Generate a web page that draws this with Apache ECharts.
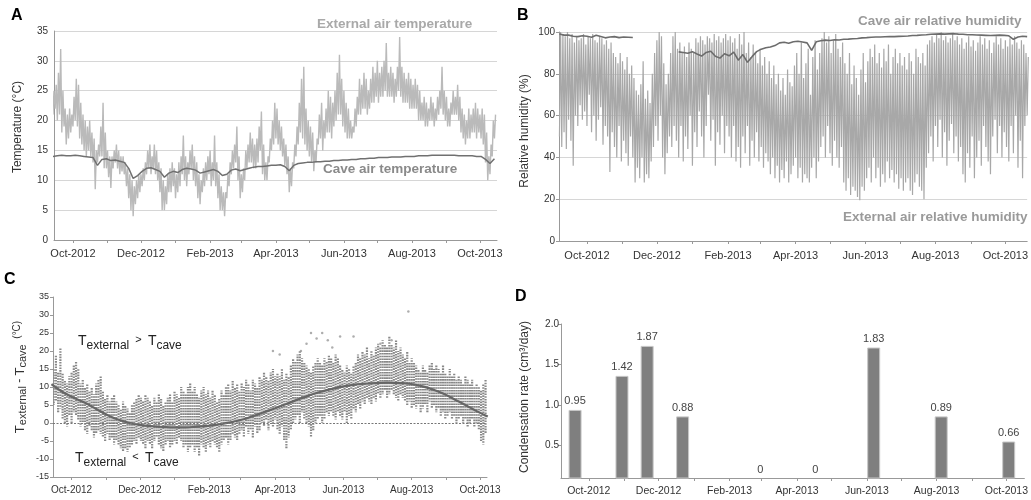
<!DOCTYPE html>
<html><head><meta charset="utf-8">
<script src="https://cdn.jsdelivr.net/npm/echarts@6/dist/echarts.min.js"></script>
<style>html,body{margin:0;padding:0;background:#fff}#c{width:1031px;height:500px}</style>
</head><body><div id="c"></div>
<script>
// Day 0 = 1 Oct 2012
const monthTickDays = [0,31,61,92,123,151,182,212,243,273,304,335,365];
const labelDays = [0,61,123,182,243,304,365];
const labelNames = ['Oct-2012','Dec-2012','Feb-2013','Apr-2013','Jun-2013','Aug-2013','Oct-2013'];

// Panel A: external air temperature (daily highs / lows, every 2 days from day -18)
const extTempStart = -18, extTempStep = 2;
const extTempHigh = [25,26,28,32,25,22,21,22,21,24,27,26,23,21,20,19,20,18,17,15,16,19,23,18,15,14,14,15,16,15,14,14,13,12,11,10,9,10,11,11,12,13,15,16,14,16,15,13,12,10,9,11,12,13,12,11,13,14,17.5,14,13,15,16,14,13,11,10,12,13,14,15,13,17.5,13,11,9,8,8,11,13,15,16,19,14,11,12,15,16,18,17,16,17,19,21.5,16,13,14,17,20,23,22,20,19,17,16,14,12,13,16,19,23,27,29,22,20,19,18,15,17,21,23,20,22,25,24,23,25,28,31,27,25,23,22,20,19,22,24,27,26,28,27,25,27,29,28,30,28,29,30,33,28,29,28,27,29,34,29,28,27,28,27,26,27,26,25,23,24,23,22,24,23,22,24,25,29,25,24,22,23,25,24,26,24,22,21,20,22,21,22,23,22,21,22,21,18,14,16,20,21];
const extTempLow = [21,22,20,21,18,19,16,17,18,19,20,19,17,16,15,14,15,14,13,8.5,13,14,14,12,12,10.5,8.7,12,13,12,11,11.5,11,9,7,5,4,6,7,8,9,10,11,12,11,12,11,10,8,5,5,6,8,8,9,7,8,9,11,10,9,11,12,10,9,7,6,8,9,10,11,9,10,9,7,5,5,4,7,9,11,12,13,10,7,8,10,12,13,13,12,12,13,15,11,10,10,13,15,16,17,16,15,14,12.5,11,8,9,12,14,16,18,17,16,15,14,13,11.5,13,16,17,15,17,18,18,17,19,20,21,21,19,18,17,17,17,18,19,21,21,22,22,21,22,23,23,24,23,24,24,25,24,24,24,23,24,25,24,23,23,23,22,22,22,22,20,20,20,19,19,20,20,19,20,21,22,21,20,19,19,21,21,21,20,18,17,16,17,17,18,18,17,18,17,16,13,10,11,14,17];
// Panel A: cave air temperature (every 4 days from day -18)
const caveTempStart = -18, caveTempStep = 4;
const caveTemp = [14.0,14.1,14.2,14.1,14.1,14.2,14.1,14.0,13.9,13.8,12.5,13.5,13.6,13.3,13.4,13.2,13.0,12.0,10.3,10.8,11.5,12.0,12.1,11.8,11.5,10.5,11.2,11.5,11.3,11.8,12.0,11.9,11.7,11.2,11.4,11.6,11.8,11.5,10.8,11.0,11.7,11.9,11.6,11.8,12.0,12.2,12.3,12.3,12.4,12.5,12.5,12.6,12.3,11.6,12.5,12.8,12.9,13.0,13.0,13.1,13.1,13.2,13.2,13.3,13.3,13.4,13.4,13.5,13.5,13.6,13.6,13.7,13.7,13.8,13.8,13.8,13.9,13.9,13.9,14.0,14.0,14.0,14.1,14.1,14.1,14.2,14.2,14.2,14.2,14.2,14.2,14.1,14.1,14.1,14.1,14.0,14.0,13.5,12.8,13.6];

// Panel B: external relative humidity (highs / lows, every 2 days from day -24)
const extRhStart = -24, extRhStep = 2;
const extRhHigh = [100,99,98,100,97,99,95,98,96,97,99,94,98,97,99,96,95,98,97,94,96,92,95,90,88,85,90,86,82,88,80,84,78,72,70,75,86,68,72,66,80,90,96,100,98,85,75,80,90,98,100,92,95,90,93,88,95,92,90,97,95,98,96,94,98,97,95,99,96,98,95,97,99,96,98,95,97,92,99,94,100,90,95,88,94,90,85,92,84,88,80,86,78,84,75,80,72,78,70,82,76,74,84,90,80,95,78,85,92,70,88,96,82,90,97,100,95,98,90,96,99,92,88,95,85,80,90,75,84,78,70,82,90,76,86,92,88,94,85,90,83,92,86,94,80,88,92,85,90,84,88,82,90,86,80,92,88,85,90,84,94,96,98,95,99,97,100,96,98,95,97,99,96,98,94,97,92,95,98,93,96,91,95,98,94,97,92,96,90,95,98,94,97,92,96,93,97,94,98,95,92,96,94,90,88];
const extRhLow = [50,45,52,44,58,48,36,60,55,65,58,62,55,70,52,60,48,58,64,46,55,50,33,52,45,40,55,38,48,42,36,50,40,28,35,30,40,28,32,30,38,45,55,48,60,40,32,42,50,45,55,48,40,55,38,50,44,60,36,52,45,62,50,40,55,70,48,58,36,52,46,60,42,55,50,40,55,38,45,35,50,42,55,36,48,40,52,38,45,35,42,38,32,40,30,36,28,34,30,38,28,32,36,40,30,35,28,32,30,28,35,40,30,38,45,50,40,55,42,36,48,40,35,45,28,24,30,22,26,24,21,19.5,26,24,30,35,28,40,30,35,26,32,28,38,30,34,28,32,25,30,24,28,30,24,22,28,32,26,24,20,35,42,50,38,55,45,58,40,52,36,48,56,42,50,38,45,32,28,42,35,50,30,40,48,36,55,45,38,32,50,58,42,55,40,52,45,38,55,42,60,35,48,30,55,60];
// Panel B: cave relative humidity (every 4 days from day -24; null = no record)
const caveRhStart = -24, caveRhStep = 4;
const caveRh = [99,98.5,98.5,98,97.8,98.2,98,97.5,98.4,97.8,97.2,97.6,97.8,97.3,97.6,97.5,97.4,null,null,null,null,null,null,null,null,null,90.5,90.2,89.8,90.6,89.5,88.5,90.2,90.8,88.4,87.5,89.6,88.6,90.4,86.5,89.2,85.5,88.2,90.6,91.8,92.5,92.8,93.5,94.8,95.1,94.6,95.3,95.6,95.2,94.8,91.2,95.3,95.8,96.1,95.9,96.3,96.2,96.5,96.6,96.8,96.9,97.2,97.3,97.5,97.6,97.6,97.7,97.8,97.8,97.9,98.0,98.1,98.3,98.4,98.6,98.7,98.9,99.0,99.1,99.0,99.1,99.2,99.0,98.9,98.7,98.7,98.6,98.5,98.4,98.3,98.4,98.5,98.4,98.2,96.5,97.6,98.0,97.8];

// Panel C: T external - T cave, spread of readings (highs / lows, every 2 days from day -18)
const diffStart = -18, diffStep = 2;
const diffHigh = [13,15,19,14,21,14,12,11,13,14,16,17,15,11,12,10,11,9,10,8,11,12,13,9,7,8,6,7,8,6,5,4,6,5,4,3,5,6,7,8,7,6,8,7,6,5,7,6,8,7,5,6,7,8,6,9,8,7,10,9,8,10,11,9,10,8,7,9,10,8,9,7,9,8,6,7,9,8,10,11,9,12,10,11,9,11,10,12,11,9,12,11,10,13,12,14,13,12,14,15,13,14,13,15,12,14,13,16,18,17,19,20,18,17,16,15,14,16,17,18,17,16,18,17,19,18,17,19,18,16,15,14,16,15,14,16,17,19,18,20,19,21,18,20,19,21,22,21,23,22,21,24,22,21,23,20,21,19,18,20,17,18,17,16,15,14,16,15,14,16,17,15,16,15,14,16,14,13,15,13,14,12,13,12,11,13,12,11,12,10,11,10,9,11,12];
const diffLow = [6,5,6,3,4,1,0,-1,2,0,3,2,1,-1,0,-2,-3,-1,-2,-4,-3,-2,-3,-4,-5,-3,-5,-4,-6,-5,-6,-7,-8,-7,-8,-7,-6,-5,-6,-4,-5,-6,-7,-5,-6,-7,-5,-4,-6,-7,-8,-6,-5,-7,-6,-5,-6,-4,-5,-7,-6,-8,-7,-6,-8,-7,-9,-6,-7,-8,-6,-7,-5,-6,-7,-8,-6,-5,-4,-6,-5,-3,-4,-5,-3,-2,-4,-1,-3,-2,-4,-1,-3,-2,0,-1,1,-2,0,-1,1,-2,-3,-1,-5,-7,-4,-2,0,1,2,0,3,1,0,-1,-4,-2,0,1,2,0,1,3,2,3,2,1,3,2,1,3,0,2,1,4,3,5,4,6,5,7,6,5,7,6,8,7,8,9,7,8,9,8,7,6,8,7,6,5,6,4,5,4,5,3,4,5,3,6,4,5,3,4,2,3,1,2,3,1,2,0,1,2,0,1,-1,0,1,-1,0,-2,-5,-6,-3];
// Panel C: isolated high readings [day, value]
const diffOutliers = [[180,20],[186,19],[205,20],[210,22],[214,25],[219,23.5],[224,25],[229,23],[233,21],[240,24],[252,24],[276,22],[286,23],[301,31]];
// Panel C: seasonal trend (every 10 days from day -18)
const trendStart = -18, trendStep = 10;
const trend = [10.8,8.6,7.0,5.6,3.9,2.2,0.9,0.0,-0.6,-0.9,-1.1,-1.2,-1.2,-1.0,-0.8,-0.4,0.2,0.9,1.9,3.0,4.1,5.3,6.5,7.6,8.6,9.4,10.1,10.6,10.9,11.1,11.2,11.1,10.9,10.3,9.4,8.2,6.6,5.0,3.3,1.8];

// Panel D: condensation rate
const condDays = [-12,29,51,82,150,198,249,308,367];
const condHeights = [0.94,1.36,1.73,0.86,0,0,1.71,0.86,0.55];
const condLabels = ['0.95','1.42','1.87','0.88','0','0','1.83','0.89','0.66'];

// ---------- build ----------
const FONT = 'Liberation Sans, Arial, sans-serif';
function zigzag(start, step, hi, lo) {
  const out = [], n = Math.min(hi.length, lo.length);
  for (let i = 0; i < n; i++) {
    const d = start + i * step;
    out.push([d, lo[i]]);
    out.push([d + step / 2, hi[i]]);
  }
  return out;
}
function series1(start, step, arr) { return arr.map((v, i) => [start + i * step, v]); }
const labelMap = {}; labelDays.forEach((d, i) => labelMap[d] = labelNames[i]);

function xAxis(grid, min, max, fs, margin) {
  return {
    type: 'value', gridIndex: grid, min: min, max: max,
    axisLine: { show: true, onZero: false, lineStyle: { color: '#999', width: 1 } },
    axisTick: { show: true, customValues: monthTickDays, length: 3, lineStyle: { color: '#999' } },
    axisLabel: { customValues: labelDays, formatter: v => labelMap[v] || '', fontSize: fs, color: '#333', margin: margin, fontFamily: FONT },
    splitLine: { show: false }
  };
}
function yLine() { return { show: true, onZero: false, lineStyle: { color: '#999' } }; }

const D_MIN = 0.1;
const bigLabel = (t, left, top, color) => ({ type: 'text', left: left, top: top,
  style: { text: t, fontSize: 13.5, fontWeight: 'bold', fontFamily: FONT, fill: color } });
const letter = (t, left, top) => ({ type: 'text', left: left, top: top,
  style: { text: t, fontSize: 16, fontWeight: 'bold', fontFamily: FONT, fill: '#000' } });
const annRich = {
  t: { fontSize: 14, fontFamily: FONT, lineHeight: 18, verticalAlign: 'top' },
  s: { fontSize: 12, fontFamily: FONT, lineHeight: 12, verticalAlign: 'bottom' },
  o: { fontSize: 11, fontFamily: FONT, lineHeight: 14, verticalAlign: 'top' }
};

const option = {
  animation: false,
  textStyle: { fontFamily: FONT },
  grid: [
    { left: 54, top: 31, width: 443, height: 209 },
    { left: 559, top: 32, width: 469, height: 209 },
    { left: 53, top: 297, width: 434, height: 180 },
    { left: 561, top: 324, width: 467, height: 154 }
  ],
  xAxis: [
    xAxis(0, -17, 380.3, 11, 8),
    xAxis(1, -24.4, 384, 11, 9),
    xAxis(2, -16.6, 371.3, 10, 8),
    xAxis(3, -24.3, 380.7, 10.5, 8)
  ],
  yAxis: [
    { type: 'value', gridIndex: 0, min: 0, max: 35, interval: 5,
      axisLine: yLine(), axisTick: { show: false },
      axisLabel: { fontSize: 10, color: '#333', margin: 6 },
      splitLine: { show: true, lineStyle: { color: '#d6d6d6', width: 1 } } },
    { type: 'value', gridIndex: 1, min: 0, max: 100, interval: 20,
      axisLine: yLine(), axisTick: { show: true, length: 3, lineStyle: { color: '#999' } },
      axisLabel: { fontSize: 10, color: '#333', margin: 4 },
      splitLine: { show: true, lineStyle: { color: '#d6d6d6', width: 1 } } },
    { type: 'value', gridIndex: 2, min: -15, max: 35, interval: 5,
      axisLine: yLine(), axisTick: { show: true, length: 3, lineStyle: { color: '#999' } },
      axisLabel: { fontSize: 9, color: '#333', margin: 4 },
      splitLine: { show: false } },
    { type: 'value', gridIndex: 3, min: D_MIN, max: 2.0,
      axisLine: yLine(),
      axisTick: { show: true, length: 3, customValues: [0.5, 1, 1.5, 2], lineStyle: { color: '#999' } },
      axisLabel: { fontSize: 10, color: '#333', margin: 2, customValues: [0.5, 1, 1.5, 2], formatter: v => v.toFixed(1) },
      splitLine: { show: false } }
  ],
  series: [
    { type: 'line', xAxisIndex: 0, yAxisIndex: 0, data: zigzag(extTempStart, extTempStep, extTempHigh, extTempLow),
      showSymbol: false, symbol: 'none', lineStyle: { color: '#bababa', width: 1.4 }, z: 2 },
    { type: 'line', xAxisIndex: 0, yAxisIndex: 0, data: series1(caveTempStart, caveTempStep, caveTemp),
      showSymbol: false, symbol: 'none', lineStyle: { color: '#707070', width: 1.5 }, z: 3 },
    { type: 'line', xAxisIndex: 1, yAxisIndex: 1, data: zigzag(extRhStart, extRhStep, extRhHigh, extRhLow),
      showSymbol: false, symbol: 'none', lineStyle: { color: '#a8a8a8', width: 1.2 }, z: 2 },
    { type: 'line', xAxisIndex: 1, yAxisIndex: 1, data: series1(caveRhStart, caveRhStep, caveRh),
      showSymbol: false, symbol: 'none', connectNulls: false, lineStyle: { color: '#6c6c6c', width: 1.6 }, z: 3 },
    { type: 'custom', xAxisIndex: 2, yAxisIndex: 2, clip: true,
      data: diffHigh.map((h, i) => [diffStart + i * diffStep, diffLow[i], h]),
      encode: { x: 0, y: [1, 2] },
      renderItem: (params, api) => {
        const p1 = api.coord([api.value(0), api.value(1)]);
        const p2 = api.coord([api.value(0), api.value(2)]);
        return { type: 'line', shape: { x1: p1[0], y1: p1[1], x2: p2[0], y2: p2[1] },
          style: { stroke: '#888', lineWidth: 2.2, lineDash: [1.6, 1.1], lineDashOffset: (params.dataIndex % 3) * 0.9 } };
      }, z: 2 },
    { type: 'scatter', xAxisIndex: 2, yAxisIndex: 2, data: diffOutliers, symbolSize: 2.5,
      itemStyle: { color: '#999' }, z: 2 },
    { type: 'line', xAxisIndex: 2, yAxisIndex: 2, data: series1(trendStart, trendStep, trend), smooth: true,
      showSymbol: false, symbol: 'none', lineStyle: { color: '#666', width: 2.2 }, z: 4,
      markLine: { silent: true, symbol: 'none', label: { show: false },
        lineStyle: { color: '#777', width: 1, type: [2, 1.5] }, data: [{ yAxis: 0 }] } },
    { type: 'bar', xAxisIndex: 3, yAxisIndex: 3, barWidth: 13,
      data: condDays.map((d, i) => ({ value: [d, Math.max(condHeights[i], D_MIN)],
        itemStyle: condHeights[i] > 0 ? {} : { color: 'rgba(0,0,0,0)', borderWidth: 0 } })),
      itemStyle: { color: '#7f7f7f', borderColor: '#c8c8c8', borderWidth: 1 },
      label: { show: true, position: 'top', distance: 3, fontSize: 11, color: '#444',
        formatter: p => condLabels[p.dataIndex] } }
  ],
  graphic: [
    letter('A', 11, 8), letter('B', 517, 8), letter('C', 4, 272), letter('D', 515, 289),
    bigLabel('External air temperature', 317, 17, '#a9a9a9'),
    bigLabel('Cave air temperature', 323, 162, '#8a8a8a'),
    bigLabel('Cave air relative humidity', 858, 14, '#9a9a9a'),
    bigLabel('External air relative humidity', 843, 210, '#9a9a9a'),
    { type: 'text', x: 18, y: 127, rotation: Math.PI / 2, style: { text: 'Temperature (°C)', fontSize: 12, fontFamily: FONT, fill: '#333', align: 'center', verticalAlign: 'middle' } },
    { type: 'text', x: 525, y: 131, rotation: Math.PI / 2, style: { text: 'Relative humidity (%)', fontSize: 12, fontFamily: FONT, fill: '#333', align: 'center', verticalAlign: 'middle' } },
    { type: 'text', x: 525, y: 397, rotation: Math.PI / 2, style: { text: 'Condensation rate (cm³/day)', fontSize: 12, fontFamily: FONT, fill: '#333', align: 'center', verticalAlign: 'middle' } },
    { type: 'text', x: 20, y: 377, rotation: Math.PI / 2, style: {
        text: '{t|T}{s|external}{n| - }{t|T}{s|cave}{u|  (°C)}', align: 'center', verticalAlign: 'middle', fill: '#333',
        rich: { t: { fontSize: 13, fontFamily: FONT, lineHeight: 16, verticalAlign: 'middle' },
                s: { fontSize: 11, fontFamily: FONT, lineHeight: 10, verticalAlign: 'bottom' },
                n: { fontSize: 12, fontFamily: FONT, lineHeight: 16, verticalAlign: 'middle' },
                u: { fontSize: 10, fontFamily: FONT, lineHeight: 10, verticalAlign: 'top' } } } },
    { type: 'text', left: 78, top: 334, style: { text: '{t|T}{s|external}{o|  >  }{t|T}{s|cave}', fill: '#222', rich: annRich } },
    { type: 'text', left: 75, top: 451, style: { text: '{t|T}{s|external}{o|  <  }{t|T}{s|cave}', fill: '#222', rich: annRich } }
  ]
};
const chart = echarts.init(document.getElementById('c'), null, { renderer: 'canvas' });
chart.setOption(option);
</script>
</body></html>
